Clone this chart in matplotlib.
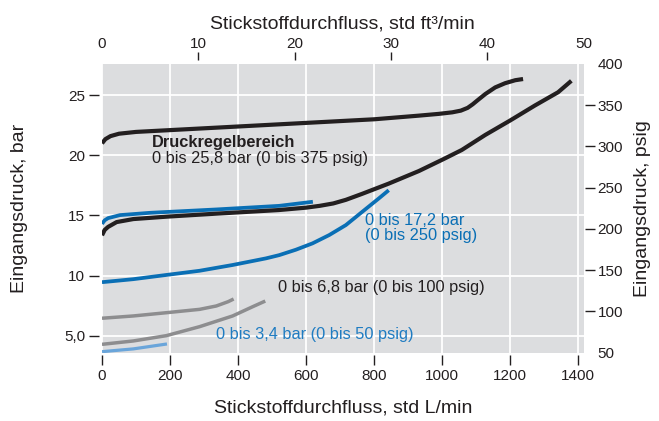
import matplotlib.pyplot as plt
from matplotlib.ticker import FixedLocator

plt.rcParams['font.family'] = ['Liberation Sans', 'DejaVu Sans']

# Data (flow in std L/min, pressure in bar)
A_X = [0, 10, 25, 50, 100, 200, 400, 600, 800, 930, 990, 1030, 1055, 1075,
       1090, 1105, 1127, 1156, 1185, 1215, 1238]
A_Y = [21.0, 21.35, 21.6, 21.8, 21.95, 22.1, 22.4, 22.7, 23.0, 23.3, 23.45,
       23.58, 23.72, 23.95, 24.25, 24.6, 25.1, 25.65, 26.0, 26.25, 26.35]

B_X = [0, 8, 18, 43, 92, 190, 336, 520, 600, 640, 680, 717, 765, 843, 932,
       1005, 1058, 1127, 1200, 1273, 1341, 1380]
B_Y = [13.35, 13.8, 14.05, 14.45, 14.7, 14.9, 15.15, 15.45, 15.65, 15.8,
       16.0, 16.3, 16.8, 17.65, 18.7, 19.7, 20.45, 21.7, 22.9, 24.15, 25.25,
       26.2]

C_X = [0, 8, 18, 53, 141, 336, 521, 620]
C_Y = [14.3, 14.6, 14.78, 15.03, 15.22, 15.5, 15.8, 16.14]

D_X = [0, 92, 189, 287, 384, 482, 521, 570, 619, 668, 717, 765, 814, 843]
D_Y = [9.45, 9.7, 10.05, 10.4, 10.88, 11.43, 11.7, 12.15, 12.68, 13.37,
       14.2, 15.3, 16.42, 17.1]

E_X = [0, 92, 189, 287, 336, 371, 387]
E_Y = [6.45, 6.64, 6.91, 7.19, 7.47, 7.83, 8.05]

F_X = [0, 92, 189, 287, 384, 443, 480]
F_Y = [4.28, 4.56, 5.0, 5.75, 6.64, 7.41, 7.88]

G_X = [0, 92, 191]
G_Y = [3.67, 3.9, 4.31]

BOTTOM_TICKS = [0, 200, 400, 600, 800, 1000, 1200, 1400]
TOP_TICKS = [0, 10, 20, 30, 40, 50]
LEFT_TICKS = [5, 10, 15, 20, 25]
LEFT_LABELS = ['5,0', '10', '15', '20', '25']
RIGHT_TICKS = [50, 100, 150, 200, 250, 300, 350, 400]

BLACK = '#231f20'
BLUE = '#0a6fb5'
GRAY = '#8d8d8f'
LIGHTBLUE = '#6aa5da'
FS_TICK = 11
FS_LABEL = 14
FS_NOTE = 11.8

fig = plt.figure(figsize=(6.59, 4.21), dpi=100)
ax = fig.add_axes([0.1548, 0.1627, 0.7307, 0.6853])
ax.set_facecolor('#dcdddf')
for s in ax.spines.values():
  s.set_visible(False)

ax.set_xlim(0, 50 * 28.3168)
ax.set_ylim(3.6, 27.6)
ax.grid(color='white', linewidth=1.3)
ax.set_axisbelow(True)

kw = dict(solid_capstyle='butt', solid_joinstyle='round')
ax.plot(G_X, G_Y, color=LIGHTBLUE, lw=2.3, **kw)
ax.plot(F_X, F_Y, color=GRAY, lw=2.5, **kw)
ax.plot(E_X, E_Y, color=GRAY, lw=2.5, **kw)
ax.plot(D_X, D_Y, color=BLUE, lw=2.7, **kw)
ax.plot(C_X, C_Y, color=BLUE, lw=2.7, **kw)
ax.plot(B_X, B_Y, color=BLACK, lw=3.0, **kw)
ax.plot(A_X, A_Y, color=BLACK, lw=3.0, **kw)

# Annotations
ax.text(146, 20.66, 'Druckregelbereich', fontsize=FS_NOTE, fontweight='bold',
        color=BLACK, va='baseline')
ax.text(146, 19.33, '0 bis 25,8 bar (0 bis 375 psig)', fontsize=FS_NOTE,
        color=BLACK, va='baseline')
ax.text(773, 14.2, '0 bis 17,2 bar', fontsize=FS_NOTE, color=BLUE,
        va='baseline')
ax.text(773, 12.96, '(0 bis 250 psig)', fontsize=FS_NOTE, color=BLUE,
        va='baseline')
ax.text(516, 8.6, '0 bis 6,8 bar (0 bis 100 psig)', fontsize=FS_NOTE,
        color=BLACK, va='baseline')
ax.text(334, 4.7, '0 bis 3,4 bar (0 bis 50 psig)', fontsize=FS_NOTE,
        color='#1f7cc2', va='baseline')

# Bottom / left axes
ax.xaxis.set_major_locator(FixedLocator(BOTTOM_TICKS))
ax.yaxis.set_major_locator(FixedLocator(LEFT_TICKS))
ax.set_yticklabels(LEFT_LABELS)
ax.spines['left'].set_position(('outward', 2))
ax.spines['bottom'].set_position(('outward', 2))
ax.tick_params(axis='both', labelsize=FS_TICK, colors=BLACK, length=7,
               width=1, direction='out', pad=3)
ax.get_xaxis().get_major_ticks()[0].tick1line.set_visible(False)
ax.set_xlabel('Stickstoffdurchfluss, std L/min', fontsize=FS_LABEL,
              color=BLACK, labelpad=12)
ax.set_ylabel('Eingangsdruck, bar', fontsize=FS_LABEL, color=BLACK,
              labelpad=26)

# Top axis - ft3/min
ax_top = ax.twiny()
ax_top.set_xlim(0, 50)
ax_top.xaxis.set_major_locator(FixedLocator(TOP_TICKS))
for s in ax_top.spines.values():
  s.set_visible(False)
ax_top.spines['top'].set_position(('outward', 3))
ax_top.tick_params(axis='x', labelsize=FS_TICK, colors=BLACK, length=6,
                   width=1, direction='out', pad=0.5)
top_ticks = ax_top.get_xaxis().get_major_ticks()
top_ticks[0].tick2line.set_visible(False)
top_ticks[-1].tick2line.set_visible(False)
ax_top.set_xlabel('Stickstoffdurchfluss, std ft³/min', fontsize=FS_LABEL,
                  color=BLACK, labelpad=6)

# Right axis - psig
ax_right = ax.twinx()
ax_right.set_ylim(50, 400)
ax_right.yaxis.set_major_locator(FixedLocator(RIGHT_TICKS))
for s in ax_right.spines.values():
  s.set_visible(False)
ax_right.spines['right'].set_position(('outward', 1))
ax_right.tick_params(axis='y', labelsize=FS_TICK, colors=BLACK, length=7,
                     width=1, direction='out', pad=2)
right_ticks = ax_right.get_yaxis().get_major_ticks()
right_ticks[0].tick2line.set_visible(False)
right_ticks[-1].tick2line.set_visible(False)
ax_right.set_ylabel('Eingangsdruck, psig', fontsize=FS_LABEL, color=BLACK,
                    labelpad=8)

fig.savefig('out.png', dpi=100)
